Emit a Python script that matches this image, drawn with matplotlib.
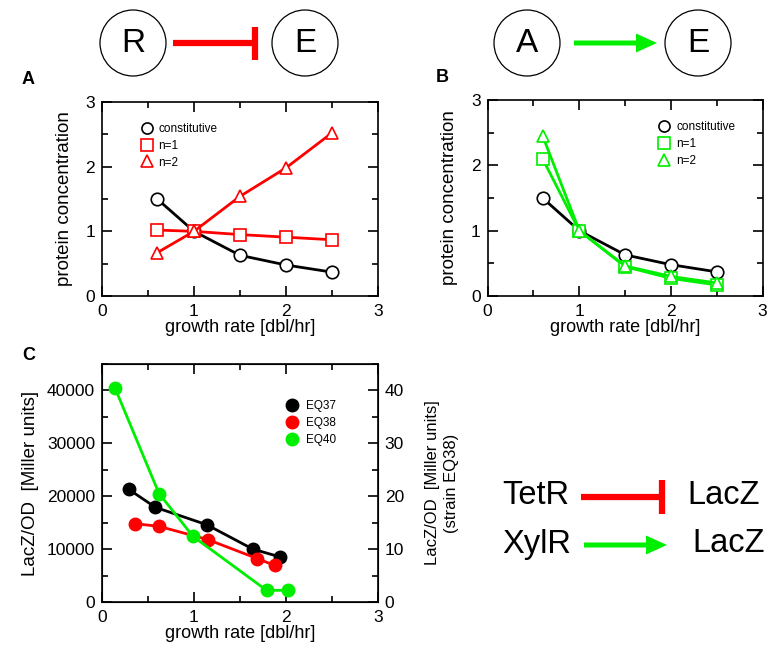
import matplotlib
matplotlib.use("Agg")
import matplotlib.pyplot as plt
from matplotlib.patches import Circle, FancyArrow
from matplotlib.ticker import MultipleLocator

plt.rcParams['font.family'] = ['Liberation Sans', 'DejaVu Sans']

# model curves (panels A and B)
growth = [0.6, 1.0, 1.5, 2.0, 2.5]
constitutive = [1.50, 1.00, 0.63, 0.48, 0.37]
rep_n1 = [1.02, 1.00, 0.95, 0.91, 0.87]
rep_n2 = [0.67, 1.00, 1.54, 1.98, 2.52]
act_n1 = [2.10, 1.00, 0.45, 0.27, 0.17]
act_n2 = [2.45, 1.00, 0.46, 0.30, 0.20]

# measurements (panel C)
eq37_x = [0.29, 0.58, 1.14, 1.64, 1.94]
eq37_y = [21300, 17900, 14600, 10000, 8500]
eq38_x = [0.36, 0.62, 1.15, 1.69, 1.88]
eq38_y = [14800, 14300, 11800, 8200, 6900]
eq40_x = [0.14, 0.62, 0.99, 1.79, 2.02]
eq40_y = [40500, 20500, 12400, 2200, 2200]

RED = '#ff0000'
GREEN = '#00ee00'

fig = plt.figure(figsize=(7.79, 6.45), dpi=100)


def style_axes(ax, ymax, ymajor, yminor):
    ax.set_xlim(0, 3)
    ax.set_ylim(0, ymax)
    ax.xaxis.set_major_locator(MultipleLocator(1))
    ax.xaxis.set_minor_locator(MultipleLocator(0.5))
    ax.yaxis.set_major_locator(MultipleLocator(ymajor))
    ax.yaxis.set_minor_locator(MultipleLocator(yminor))
    ax.tick_params(which='both', direction='in', top=True, right=True,
                   labelsize=12.5, width=1.2)
    ax.tick_params(axis='x', pad=6)
    ax.tick_params(axis='y', pad=5)
    ax.tick_params(which='major', length=7)
    ax.tick_params(which='minor', length=4)
    for s in ax.spines.values():
        s.set_linewidth(1.2)
    ax.set_xlabel('growth rate [dbl/hr]', fontsize=13, labelpad=0)


def model_panel(rect, c1, c2, n1, n2, legend_x):
    ax = fig.add_axes(rect)
    style_axes(ax, 3, 1, 0.5)
    kw = dict(lw=2, mfc='white', ms=9, mew=1.2)
    ax.plot(growth, constitutive, '-o', color='black', label='constitutive', **kw)
    ax.plot(growth, n1, '-s', color=c1, label='n=1', **kw)
    ax.plot(growth, n2, '-^', color=c2, label='n=2', **kw)
    ax.set_ylabel('protein concentration', fontsize=13.5, labelpad=9)
    leg = ax.legend(loc='upper left', bbox_to_anchor=(legend_x, 0.915), frameon=False,
                    fontsize=8.5, handlelength=0, handletextpad=1.0,
                    labelspacing=0.4, borderaxespad=0)
    for h in leg.legend_handles:
        h.set_markersize(8)
    return ax


axA = model_panel([0.131, 0.541, 0.354, 0.301], RED, RED, rep_n1, rep_n2, 0.145)
axB = model_panel([0.626, 0.541, 0.353, 0.304], GREEN, GREEN, act_n1, act_n2, 0.625)

axC = fig.add_axes([0.131, 0.0667, 0.354, 0.369])
style_axes(axC, 45000, 10000, 5000)
axC.tick_params(right=False, which='both')
kw = dict(lw=2, ms=9)
axC.plot(eq37_x, eq37_y, '-o', color='black', label='EQ37', **kw)
axC.plot(eq38_x, eq38_y, '-o', color=RED, label='EQ38', **kw)
axC.plot(eq40_x, eq40_y, '-o', color=GREEN, label='EQ40', **kw)
axC.set_ylabel('LacZ/OD  [Miller units]', fontsize=13.5, labelpad=6)
axC.legend(loc='upper left', bbox_to_anchor=(0.67, 0.87), frameon=False,
           fontsize=8.5, handlelength=0, handletextpad=1.2, labelspacing=0.45,
           borderaxespad=0)
axR = axC.twinx()
axR.set_ylim(0, 45)
axR.yaxis.set_major_locator(MultipleLocator(10))
axR.yaxis.set_minor_locator(MultipleLocator(5))
axR.tick_params(which='both', direction='in', labelsize=12.5, width=1.2, pad=5)
axR.tick_params(which='major', length=7)
axR.tick_params(which='minor', length=4)
axR.set_ylabel('LacZ/OD  [Miller units]\n(strain EQ38)', fontsize=12,
               linespacing=1.3, labelpad=15)

# overlay in pixel coordinates for the network sketches and panel letters
ov = fig.add_axes([0, 0, 1, 1])
ov.set_xlim(0, 779)
ov.set_ylim(645, 0)
ov.axis('off')

for cx, letter in [(133, 'R'), (305, 'E'), (527, 'A'), (698, 'E')]:
    ov.add_patch(Circle((cx, 43), 33, fill=False, lw=0.9, ec='black'))
    ov.text(cx, 44, letter, fontsize=24, ha='center', va='center')

ov.plot([173, 255], [43, 43], color=RED, lw=4.5, solid_capstyle='butt')
ov.plot([255, 255], [27, 60], color=RED, lw=4.5, solid_capstyle='butt')
ov.add_patch(FancyArrow(574, 43, 62, 0, width=5, head_width=19, head_length=21,
                        length_includes_head=False, color=GREEN, lw=0))

for x, y, t in [(22, 80, 'A'), (436, 77, 'B'), (22, 355, 'C')]:
    ov.text(x, y, t, fontsize=13, fontweight='bold', ha='left', va='center')

ov.text(502, 496, 'TetR', fontsize=23.5, ha='left', va='center')
ov.text(687, 496, 'LacZ', fontsize=23.5, ha='left', va='center')
ov.plot([581, 662], [497, 497], color=RED, lw=4.5, solid_capstyle='butt')
ov.plot([662, 662], [480, 514], color=RED, lw=4.5, solid_capstyle='butt')
ov.text(502, 544, 'XylR', fontsize=23.5, ha='left', va='center')
ov.text(692, 544, 'LacZ', fontsize=23.5, ha='left', va='center')
ov.add_patch(FancyArrow(584, 545, 62, 0, width=5, head_width=19, head_length=21,
                        length_includes_head=False, color=GREEN, lw=0))

fig.savefig('out.png', dpi=100)
